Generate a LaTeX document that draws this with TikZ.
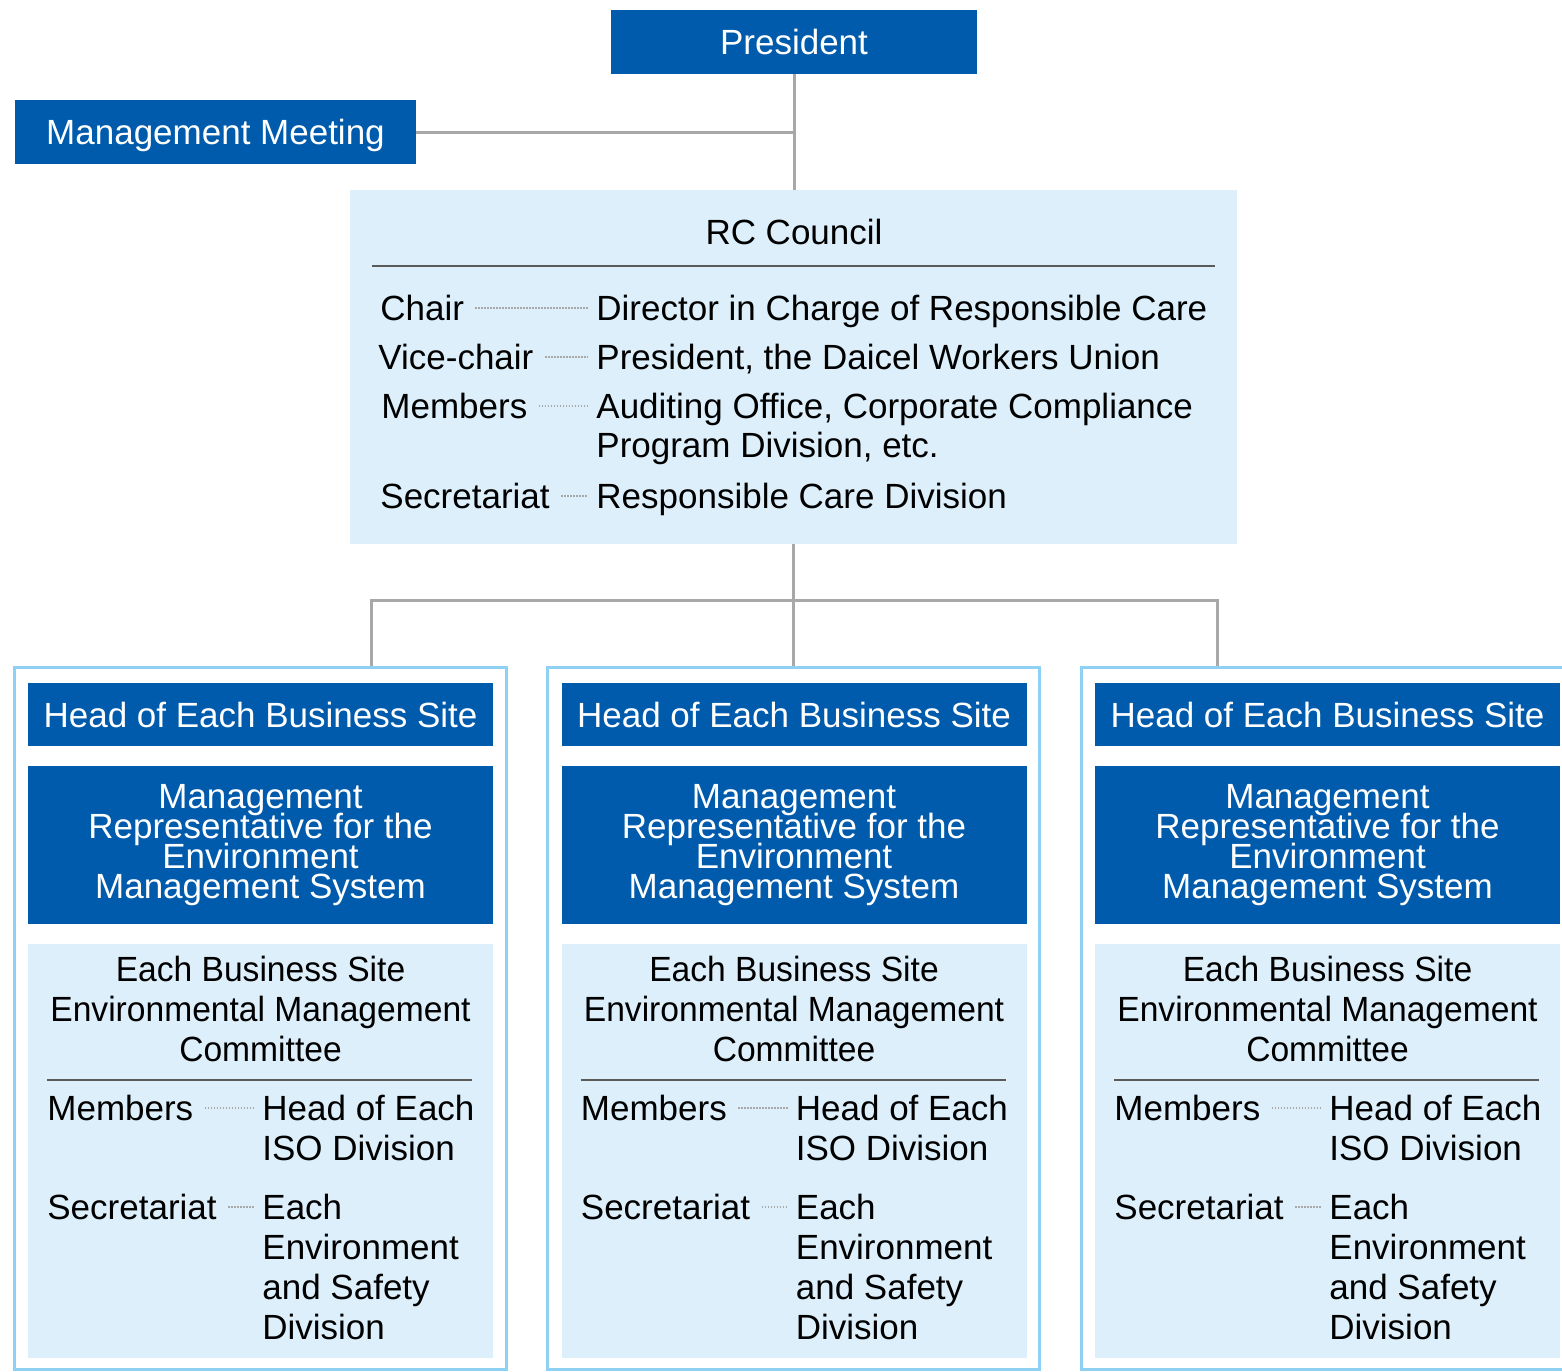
\documentclass[tikz,border=0pt]{standalone}
\usepackage{fontspec}
\setmainfont{Liberation Sans}
\newfontfamily\dccond{Liberation Sans}[FakeStretch=0.96]
\usetikzlibrary{positioning}
\definecolor{dcblue}{RGB}{0,91,172}
\definecolor{dclight}{RGB}{220,239,250}
\definecolor{dcframe}{RGB}{142,209,242}
\definecolor{dcgray}{RGB}{168,168,168}
\definecolor{dcrule}{RGB}{90,90,90}
\newcommand{\dcfont}{\fontsize{17.5pt}{20pt}\selectfont}
\DeclareRobustCommand{\dctight}{\fontsize{17.5pt}{15pt}\selectfont\setlength{\lineskiplimit}{-20pt}}

\begin{document}
\begin{tikzpicture}[x=0.5pt, y=-0.5pt,
  darkbox/.style={fill=dcblue, text=white, font=\dcfont, inner sep=0pt, align=center},
  lightbox/.style={fill=dclight, inner sep=0pt},
  frame/.style={draw=dcframe, line width=1.5pt, fill=white, inner sep=0pt},
  conn/.style={draw=dcgray, line width=1.5pt},
  leader/.style={draw=dcgray, line width=0.9pt, dash pattern=on 0.9pt off 0.6pt, shorten <=5.5pt, shorten >=4pt},
  rule/.style={draw=dcrule, line width=1pt},
  lbl/.style={anchor=base west, inner sep=0pt, font=\dcfont, align=left}]
\path[use as bounding box, clip] (0,0) rectangle (1562,1371);

% top of the chart
\node[darkbox, minimum width=183pt, minimum height=32pt] (pres) at (794,42) {President};
\node[darkbox, minimum width=200.5pt, minimum height=32pt, text depth=0pt] (mm) at (215.5,132) {Management Meeting};
\node[lightbox, minimum width=443.5pt, minimum height=177pt] (rc) at (793.5,367) {};
\node[font=\dcfont, inner sep=0pt] (rctitle) at (794,232) {RC Council};
\draw[rule] (372,266) -- (1215,266);
\draw[conn] (pres.south) -- (pres.south |- rc.north);
\draw[conn] (mm.east) -- (mm.east -| pres.south);

% council rows (base of a multi-line node = its last line)
\node[lbl] (chair) at (380,320.5) {Chair};
\node[lbl] (chairv) at (596,320.5) {Director in Charge of Responsible Care};
\node[lbl] (vice) at (378,369.5) {Vice-chair};
\node[lbl] (vicev) at (596,369.5) {President, the Daicel Workers Union};
\node[lbl] (memb) at (381,418.5) {Members};
\node[lbl, font=\fontsize{17.5pt}{19.5pt}\selectfont] (membv) at (596,457.5) {Auditing Office, Corporate Compliance\\Program Division, etc.};
\node[lbl] (secr) at (380,508.5) {Secretariat};
\node[lbl] (secrv) at (596,508.5) {Responsible Care Division};
\draw[leader] (chair.east) -- (chair.east -| chairv.west);
\draw[leader] (vice.east) -- (vice.east -| vicev.west);
\draw[leader] (memb.east) -- (memb.east -| membv.west);
\draw[leader] (secr.east) -- (secr.east -| secrv.west);

% business sites
\foreach \i/\dx in {1/0,2/533.5,3/1067}{
  \node[frame, minimum width=246pt, minimum height=351pt] (frame\i) at (260+\dx,1018.5) {};
  \node[darkbox, minimum width=232.5pt, minimum height=31.5pt] (head\i) at (260.5+\dx,714.5) {Head of Each Business Site};
  \node[darkbox, minimum width=232.5pt, minimum height=79pt, font=\dctight] (rep\i) at (260.5+\dx,845) {Management\\Representative for the\\Environment\\Management System};
  \node[lightbox, minimum width=232.5pt, minimum height=207pt] (comm\i) at (260.5+\dx,1151) {};
  \node[font=\dccond\dcfont, align=center, inner sep=0pt] (commt\i) at (260.5+\dx,1009) {Each Business Site\\Environmental Management\\Committee};
  \draw[rule] (47+\dx,1080) -- (472+\dx,1080);
  \node[lbl] (smemb\i) at (47+\dx,1120.5) {Members};
  \node[lbl] (smembv\i) at (262+\dx,1160.5) {Head of Each\\ISO Division};
  \node[lbl] (ssecr\i) at (47+\dx,1219.5) {Secretariat};
  \node[lbl] (ssecrv\i) at (262+\dx,1339.5) {Each\\Environment\\and Safety\\Division};
  \draw[leader] (smemb\i.east) -- (smemb\i.east -| smembv\i.west);
  \draw[leader] (ssecr\i.east) -- (ssecr\i.east -| ssecrv\i.west);
}

% council to sites
\draw[conn] (rc.south) -- (frame2.north);
\draw[conn] ([xshift=55.5pt]frame1.north) -- ++(0,-66) coordinate (forkl) -| ([xshift=-55pt]frame3.north);
\end{tikzpicture}
\end{document}
